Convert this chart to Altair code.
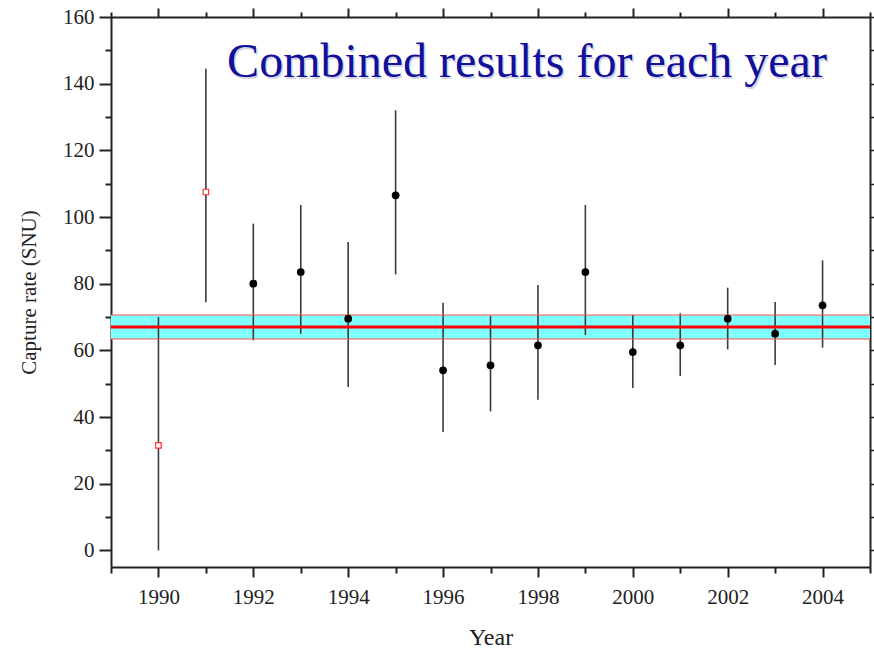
import altair as alt
import pandas as pd

years = [1990, 1991, 1992, 1993, 1994, 1995, 1996, 1997, 1998, 1999, 2000, 2001, 2002, 2003, 2004]
rate = [31.5, 107.5, 80, 83.5, 69.5, 106.5, 54, 55.5, 61.5, 83.5, 59.5, 61.5, 69.5, 65, 73.5]
low = [0, 74.4, 63, 65, 49, 82.8, 35.5, 41.7, 45.2, 64.6, 48.7, 52.3, 60.3, 55.6, 60.8]
high = [70, 144.5, 98, 103.6, 92.5, 132, 74.3, 70.4, 79.6, 103.6, 70.6, 71.1, 78.8, 74.5, 87]
group = ["early", "early"] + ["later"] * 13

band_low = [63.4]
band_high = [70.6]
mean_rate = [67.0]

title_text = "Combined results for each year"

df = pd.DataFrame({"year": years, "rate": rate, "low": low, "high": high, "group": group})
band_df = pd.DataFrame({"lo": band_low, "hi": band_high, "mid": mean_rate})

W, H = 759, 550
xscale = alt.Scale(domain=[1989, 2005], nice=False, zero=False)
yscale = alt.Scale(domain=[-5, 160], nice=False, zero=False)

FONT = "Liberation Serif"
x_ticks = list(range(1989, 2006))
y_ticks = list(range(0, 161, 10))

x_axis = alt.Axis(
    values=x_ticks, format="d", title="Year",
    labelExpr="datum.value % 2 === 0 ? datum.label : ''",
    tickSize={"condition": {"test": "datum.value % 2 === 0", "value": 10}, "value": 6},
    tickColor="#222", tickWidth=2, domainColor="#222", domainWidth=2,
    labelFont=FONT, labelFontSize=21, labelColor="#222", labelPadding=9,
    titleFont=FONT, titleFontSize=24, titleFontWeight="normal", titleColor="#222",
    titlePadding=18, grid=False,
)
y_axis = alt.Axis(
    values=y_ticks, title="Capture rate (SNU)",
    labelExpr="datum.value % 20 === 0 ? datum.label : ''",
    tickSize={"condition": {"test": "datum.value % 20 === 0", "value": 12}, "value": 6},
    tickColor="#222", tickWidth=2, domainColor="#222", domainWidth=2,
    labelFont=FONT, labelFontSize=21, labelColor="#222", labelPadding=5,
    titleFont=FONT, titleFontSize=21, titleFontWeight="normal", titleColor="#222",
    titlePadding=23, grid=False,
)
x_top = alt.Axis(
    values=x_ticks, orient="top", labels=False, title=None,
    tickSize={"condition": {"test": "datum.value % 2 === 0", "value": 9}, "value": 5},
    tickColor="#222", tickWidth=2, domainColor="#222", domainWidth=2, grid=False,
)
y_right = alt.Axis(
    values=y_ticks, orient="right", labels=False, title=None,
    tickSize={"condition": {"test": "datum.value % 20 === 0", "value": 6}, "value": 4},
    tickColor="#222", tickWidth=1.5, domainColor="#222", domainWidth=2, grid=False,
)

band = alt.Chart(band_df).mark_rect(color="#80ffff", opacity=1).encode(
    x=alt.value(0), x2=alt.value(W),
    y=alt.Y("lo:Q", scale=yscale, axis=None),
    y2="hi:Q",
)
band_edges_lo = alt.Chart(band_df).mark_rule(color="#ff5050", strokeWidth=1.2).encode(
    x=alt.value(0), x2=alt.value(W), y=alt.Y("lo:Q", scale=yscale, axis=None))
band_edges_hi = alt.Chart(band_df).mark_rule(color="#ff5050", strokeWidth=1.2).encode(
    x=alt.value(0), x2=alt.value(W), y=alt.Y("hi:Q", scale=yscale, axis=None))
mid_line = alt.Chart(band_df).mark_rule(color="#ff0000", strokeWidth=3).encode(
    x=alt.value(0), x2=alt.value(W), y=alt.Y("mid:Q", scale=yscale, axis=None))

frame_layer = alt.Chart(df).mark_point(opacity=0).encode(
    x=alt.X("year:Q", scale=xscale, axis=x_top),
    y=alt.Y("rate:Q", scale=yscale, axis=y_right),
)

errs = alt.Chart(df).mark_rule(color="#3a3a3a", strokeWidth=1.6).encode(
    x=alt.X("year:Q", scale=xscale, axis=x_axis),
    y=alt.Y("low:Q", scale=yscale, axis=y_axis),
    y2="high:Q",
)

filled = alt.Chart(df).transform_filter("datum.group === 'later'").mark_circle(
    color="#000000", size=60, opacity=1).encode(
    x=alt.X("year:Q", scale=xscale, axis=None),
    y=alt.Y("rate:Q", scale=yscale, axis=None),
)
opened = alt.Chart(df).transform_filter("datum.group === 'early'").mark_square(
    color="#ff3333", filled=False, size=30, strokeWidth=1.2, fill="white", fillOpacity=1).encode(
    x=alt.X("year:Q", scale=xscale, axis=None),
    y=alt.Y("rate:Q", scale=yscale, axis=None),
)

title_df = pd.DataFrame({"t": [title_text]})
title_shadow = alt.Chart(title_df).mark_text(
    font=FONT, fontSize=48, color="#d4d4e4", align="center", baseline="alphabetic",
    dx=1.5, dy=1.5).encode(text="t:N", x=alt.value(416), y=alt.value(60))
title_mark = alt.Chart(title_df).mark_text(
    font=FONT, fontSize=48, color="#10109a", align="center", baseline="alphabetic").encode(
    text="t:N", x=alt.value(416), y=alt.value(60))

chart = alt.layer(
    band, errs, mid_line, band_edges_lo, band_edges_hi, filled, opened,
    frame_layer, title_shadow, title_mark,
).resolve_axis(x="independent", y="independent").properties(
    width=W, height=H,
    autosize=alt.AutoSizeParams(type="none"),
    padding={"left": 111, "top": 17, "right": 4, "bottom": 85},
).configure_view(stroke=None).configure(background="white")

chart.save("out.html", embed_options={"renderer": "svg", "actions": False})
